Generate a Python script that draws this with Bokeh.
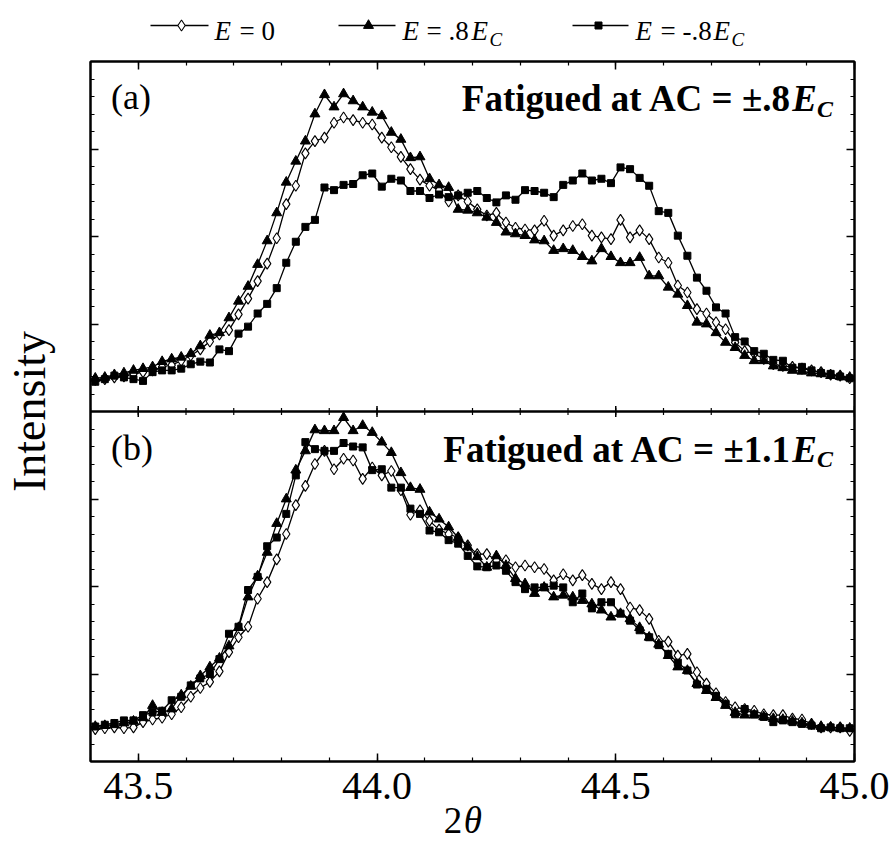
import math
from bokeh.plotting import figure
from bokeh.models import Range1d, LinearAxis, FixedTicker, Label, Span, CustomJSTickFormatter
from bokeh.layouts import column
from bokeh.embed import file_html
from bokeh.resources import INLINE

# ---------------- data ----------------
two_theta = [round(43.41 + 0.02 * k, 2) for k in range(80)]

x_major_ticks = [43.5, 44.0, 44.5, 45.0]
x_tick_labels = ["43.5", "44.0", "44.5", "45.0"]
x_minor_ticks = [43.4, 43.5, 43.6, 43.7, 43.8, 43.9, 44.0, 44.1, 44.2, 44.3,
                 44.4, 44.5, 44.6, 44.7, 44.8, 44.9, 45.0]
y_major_ticks = [1, 2, 3, 5, 6, 7]
y_minor_ticks = [round(0.2 * k, 1) for k in range(41)]

# panel (a): fatigued at AC = +-.8Ec
a_e0 = [0.36, 0.37, 0.39, 0.40, 0.43, 0.45, 0.47, 0.51, 0.53, 0.58,
        0.64, 0.71, 0.80, 0.88, 0.93, 1.11, 1.29, 1.49, 1.69, 1.98,
        2.37, 2.58, 2.95, 3.09, 3.13, 3.30, 3.36, 3.33, 3.30, 3.28,
        3.13, 3.02, 2.91, 2.77, 2.65, 2.58, 2.53, 2.40, 2.47, 2.40,
        2.31, 2.24, 2.27, 2.16, 2.10, 2.08, 2.07, 2.18, 2.01, 2.07,
        2.12, 2.14, 2.01, 1.99, 1.97, 2.19, 1.99, 2.07, 1.97, 1.76,
        1.70, 1.44, 1.36, 1.17, 1.12, 1.02, 0.94, 0.79, 0.69, 0.66,
        0.60, 0.54, 0.52, 0.51, 0.49, 0.47, 0.45, 0.42, 0.41, 0.38]
a_e8 = [0.38, 0.39, 0.42, 0.44, 0.47, 0.49, 0.51, 0.57, 0.60, 0.62,
        0.66, 0.75, 0.87, 0.90, 1.07, 1.26, 1.43, 1.68, 1.95, 2.27,
        2.62, 2.86, 3.09, 3.40, 3.62, 3.48, 3.63, 3.55, 3.48, 3.42,
        3.38, 3.19, 3.11, 2.90, 2.91, 2.66, 2.59, 2.56, 2.31, 2.30,
        2.27, 2.22, 2.16, 2.05, 2.03, 2.01, 1.96, 1.95, 1.84, 1.86,
        1.84, 1.77, 1.72, 1.86, 1.77, 1.70, 1.70, 1.76, 1.55, 1.55,
        1.42, 1.34, 1.21, 1.02, 1.00, 0.90, 0.79, 0.73, 0.64, 0.58,
        0.58, 0.52, 0.50, 0.47, 0.46, 0.44, 0.43, 0.41, 0.40, 0.39]
a_em8 = [0.34, 0.37, 0.41, 0.39, 0.37, 0.35, 0.45, 0.47, 0.47, 0.49,
         0.54, 0.57, 0.56, 0.71, 0.69, 0.89, 0.97, 1.12, 1.23, 1.41,
         1.70, 1.94, 2.11, 2.19, 2.56, 2.53, 2.59, 2.60, 2.70, 2.72,
         2.57, 2.66, 2.64, 2.52, 2.52, 2.44, 2.48, 2.45, 2.47, 2.50,
         2.52, 2.44, 2.39, 2.47, 2.42, 2.53, 2.52, 2.50, 2.45, 2.59,
         2.64, 2.72, 2.64, 2.66, 2.61, 2.79, 2.77, 2.67, 2.58, 2.29,
         2.27, 2.01, 1.78, 1.53, 1.38, 1.19, 1.12, 0.85, 0.80, 0.69,
         0.66, 0.59, 0.58, 0.50, 0.51, 0.47, 0.44, 0.43, 0.40, 0.38]

# panel (b): fatigued at AC = +-1.1Ec
b_e0 = [0.37, 0.38, 0.39, 0.38, 0.39, 0.45, 0.48, 0.50, 0.54, 0.62,
        0.74, 0.84, 0.91, 1.03, 1.25, 1.42, 1.54, 1.86, 2.05, 2.31,
        2.60, 2.93, 3.15, 3.40, 3.55, 3.34, 3.46, 3.44, 3.23, 3.36,
        3.27, 3.32, 3.10, 2.82, 2.87, 2.75, 2.65, 2.60, 2.56, 2.47,
        2.37, 2.37, 2.30, 2.30, 2.22, 2.24, 2.22, 2.20, 2.07, 2.14,
        2.07, 2.13, 2.03, 1.97, 2.05, 1.97, 1.76, 1.73, 1.63, 1.38,
        1.37, 1.21, 1.23, 1.02, 0.89, 0.78, 0.68, 0.62, 0.60, 0.58,
        0.54, 0.53, 0.53, 0.49, 0.48, 0.43, 0.39, 0.39, 0.39, 0.35]
b_e8 = [0.40, 0.41, 0.42, 0.44, 0.46, 0.50, 0.64, 0.56, 0.60, 0.76,
        0.86, 0.98, 1.08, 1.18, 1.32, 1.53, 1.88, 2.12, 2.39, 2.72,
        3.00, 3.33, 3.55, 3.79, 3.78, 3.78, 3.93, 3.78, 3.84, 3.76,
        3.65, 3.53, 3.30, 3.13, 3.11, 2.85, 2.77, 2.68, 2.56, 2.45,
        2.34, 2.22, 2.35, 2.24, 2.09, 2.03, 1.92, 1.99, 1.88, 1.90,
        1.88, 1.84, 1.80, 1.73, 1.65, 1.69, 1.63, 1.53, 1.42, 1.34,
        1.21, 1.08, 1.04, 0.89, 0.81, 0.73, 0.64, 0.56, 0.53, 0.53,
        0.51, 0.49, 0.48, 0.46, 0.44, 0.42, 0.40, 0.39, 0.38, 0.38]
b_em8 = [0.40, 0.42, 0.44, 0.47, 0.47, 0.53, 0.56, 0.58, 0.70, 0.74,
         0.87, 0.95, 1.00, 1.17, 1.46, 1.54, 1.96, 2.11, 2.46, 2.56,
         2.83, 3.27, 3.65, 3.57, 3.55, 3.55, 3.64, 3.60, 3.59, 3.33,
         3.34, 3.13, 3.13, 2.89, 2.83, 2.64, 2.62, 2.53, 2.49, 2.35,
         2.23, 2.22, 2.24, 2.18, 2.05, 1.97, 1.99, 1.99, 2.01, 1.99,
         1.82, 1.92, 1.75, 1.82, 1.82, 1.69, 1.61, 1.50, 1.42, 1.33,
         1.23, 1.13, 1.04, 0.88, 0.83, 0.75, 0.66, 0.54, 0.60, 0.54,
         0.51, 0.45, 0.47, 0.45, 0.43, 0.41, 0.38, 0.39, 0.38, 0.38]

# ---------------- styles ----------------
FONT = "Liberation Serif"
BLACK = "#000000"
MARKERS = [
    dict(marker="diamond", size=11, fill_color="#ffffff", line_color=BLACK, line_width=1.1),
    dict(marker="triangle", size=10, fill_color=BLACK, line_color=BLACK, line_width=1),
    dict(marker="square", size=7, fill_color=BLACK, line_color=BLACK, line_width=1),
]
W = 896
LEFT, RIGHT = 90, 42
X0, X1 = 43.4, 45.0
PX = (X1 - X0) / (W - LEFT - RIGHT)   # data units per pixel along x


def strip(height, x_range, y_range):
    f = figure(width=W, height=height, x_range=x_range, y_range=y_range,
               output_backend="svg", toolbar_location=None, title_location=None,
               x_axis_type=None, y_axis_type=None, frame_align=False,
               min_border_left=0, min_border_right=0, min_border_top=0, min_border_bottom=0,
               outline_line_color=None)
    f.background_fill_color = "#ffffff"
    f.border_fill_color = "#ffffff"
    return f


def put(fig, x, y, text, size, style="normal", align="left", angle=0.0):
    fig.add_layout(Label(x=x, y=y, text=text, text_font=FONT, text_font_size=size,
                         text_font_style=style, text_align=align, text_baseline="middle",
                         text_color=BLACK, angle=angle))


# ---------------- legend strip (page pixels, y downwards) ----------------
LEG_H = 52
leg = strip(LEG_H, Range1d(0, W), Range1d(LEG_H, 0))
leg_samples = [(150, 208, 181), (338, 395, 368), (572, 628, 598)]
LEG_Y = 25
for (x0, x1, xm), mk in zip(leg_samples, MARKERS):
    leg.line([x0, x1], [LEG_Y, LEG_Y], line_color=BLACK, line_width=1.6)
    leg.scatter([xm], [LEG_Y], **mk)

LM = 30.5   # text centre line
LS = 38.5   # subscript centre line
put(leg, 214, LM, "E", "27px", "italic")
put(leg, 239, LM, "= 0", "27px")
put(leg, 402, LM, "E", "27px", "italic")
put(leg, 426, LM, "= .8", "27px")
put(leg, 471, LM, "E", "27px", "italic")
put(leg, 489, LS, "C", "19px", "italic")
put(leg, 635, LM, "E", "27px", "italic")
put(leg, 660, LM, "= -.8", "27px")
put(leg, 713, LM, "E", "27px", "italic")
put(leg, 731, LS, "C", "19px", "italic")

# ---------------- main plot ----------------
TOP, FRAME_H, BOTTOM = 9, 700, 2
p = figure(width=W, height=TOP + FRAME_H + BOTTOM, x_range=Range1d(X0, X1), y_range=Range1d(0, 8),
           output_backend="svg", toolbar_location=None, title_location=None,
           x_axis_location=None, y_axis_location=None, frame_align=False,
           min_border_left=LEFT, min_border_right=RIGHT, min_border_top=TOP, min_border_bottom=BOTTOM)
p.extra_y_ranges = {"a": Range1d(-4, 4)}
p.xgrid.visible = False
p.ygrid.visible = False
p.outline_line_color = BLACK
p.outline_line_width = 2
p.background_fill_color = "#ffffff"
p.border_fill_color = "#ffffff"

blank = CustomJSTickFormatter(code="return ''")


def frame_axis(ticks, minor, side, **kw):
    ax = LinearAxis(ticker=FixedTicker(ticks=ticks, minor_ticks=minor), formatter=blank, **kw)
    ax.axis_line_width = 2
    ax.axis_line_color = BLACK
    ax.major_tick_in = 8
    ax.major_tick_out = 0
    ax.minor_tick_in = 4
    ax.minor_tick_out = 0
    ax.major_tick_line_width = 1.5
    ax.minor_tick_line_width = 1.2
    ax.major_tick_line_color = BLACK
    ax.minor_tick_line_color = BLACK
    ax.major_label_standoff = 0
    ax.major_label_text_font_size = "1px"
    p.add_layout(ax, side)
    return ax


frame_axis(x_major_ticks, x_minor_ticks, "below")
frame_axis(x_major_ticks, x_minor_ticks, "above")
yl = frame_axis(y_major_ticks, y_minor_ticks, "left", axis_label="Intensity")
yl.axis_label_standoff = 36
yl.axis_label_text_font = FONT
yl.axis_label_text_font_size = "46px"
yl.axis_label_text_font_style = "normal"
yl.axis_label_text_color = BLACK
frame_axis(y_major_ticks, y_minor_ticks, "right")

# separator between the panels, with its tick marks
p.add_layout(Span(location=4, dimension="width", line_color=BLACK, line_width=2.5))
p.scatter(x_minor_ticks, [4] * len(x_minor_ticks), marker="dash", angle=math.pi / 2,
          size=7, line_color=BLACK, line_width=1.2)
p.scatter(x_major_ticks, [4] * len(x_major_ticks), marker="dash", angle=math.pi / 2,
          size=11, line_color=BLACK, line_width=1.5)

# data
for ys, mk in zip([a_e0, a_e8, a_em8], MARKERS):
    p.line(two_theta, ys, y_range_name="a", line_color=BLACK, line_width=1.3)
    p.scatter(two_theta, ys, y_range_name="a", **mk)
for ys, mk in zip([b_e0, b_e8, b_em8], MARKERS):
    p.line(two_theta, ys, line_color=BLACK, line_width=1.3)
    p.scatter(two_theta, ys, **mk)

# panel letters
put(p, 43.443, 7.60, "(a)", "36px")
put(p, 43.443, 3.58, "(b)", "36px")

# panel titles (right aligned, built from pieces)
X_END = 44.955
for mid, sub, main in ((7.573, 7.457, "Fatigued at AC = \u00b1.8"),
                       (3.565, 3.457, "Fatigued at AC = \u00b11.1")):
    put(p, X_END, sub, "C", "24px", "bold italic", "right")
    put(p, X_END - 16 * PX, mid, "E", "37px", "bold italic", "right")
    put(p, X_END - 41 * PX, mid, main, "37px", "bold", "right")

# ---------------- x tick labels and x-axis title strip (y in px, downwards) ----------------
XT_H = 841 - 52 - (TOP + FRAME_H + BOTTOM)
xs = strip(XT_H, Range1d(X0 - LEFT * PX, X1 + RIGHT * PX), Range1d(XT_H, 0))
for t, s in zip(x_major_ticks, x_tick_labels):
    put(xs, t, 22.5, s, "40px", align="center")
put(xs, 44.14, 57, "2", "37px")
put(xs, 44.14 + 20 * PX, 57, "\u03b8", "37px", "italic")

layout = column(leg, p, xs, spacing=0)
open("out.html", "w").write(file_html(layout, INLINE))
